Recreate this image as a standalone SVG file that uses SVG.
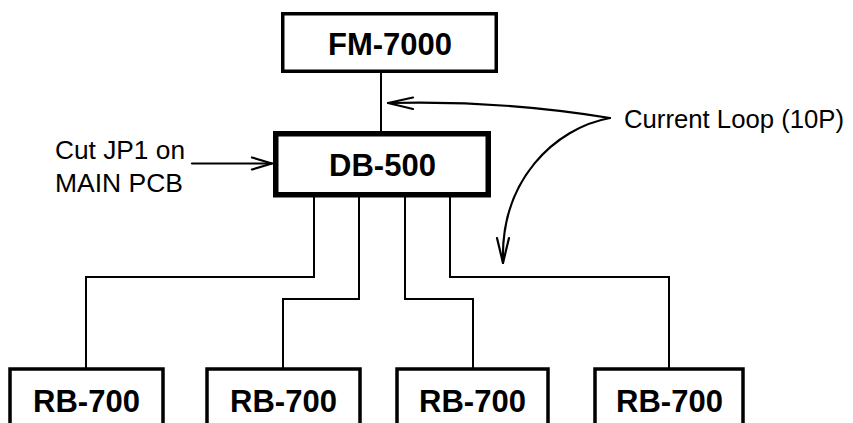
<svg xmlns="http://www.w3.org/2000/svg" width="853" height="423" viewBox="0 0 853 423">
<style>
.box{fill:#fff;stroke:#000;stroke-width:3.5}
.thick{stroke-width:5.5}
.lbl{font-family:"Liberation Sans",Arial,sans-serif;font-weight:bold;font-size:31px;fill:#000;text-anchor:middle}
.note{font-family:"Liberation Sans",Arial,sans-serif;font-size:26px;fill:#000}
.wire{fill:none;stroke:#000;stroke-width:2}
.ptr{fill:none;stroke:#000;stroke-width:2.2;stroke-linecap:round;stroke-linejoin:round}
</style>
<rect width="853" height="423" fill="#fff"/>
<g id="connectors">
<line class="wire" x1="381" y1="72" x2="381" y2="133"/>
<polyline class="wire" points="314,196 314,277 86,277 86,369"/>
<polyline class="wire" points="359,196 359,299 283,299 283,369"/>
<polyline class="wire" points="405,196 405,299 473,299 473,369"/>
<polyline class="wire" points="450,196 450,277 669,277 669,369"/>
</g>
<g id="fm7000">
<rect class="box" x="282.75" y="13.75" width="213.5" height="57.5"/>
<text class="lbl" x="390" y="55">FM-7000</text>
</g>
<g id="db500">
<rect class="box thick" x="275.75" y="133.75" width="212.5" height="61"/>
<text class="lbl" x="382.5" y="176">DB-500</text>
</g>
<g id="rb700-1">
<rect class="box" x="10" y="369" width="153" height="70"/>
<text class="lbl" x="86.5" y="412">RB-700</text>
</g>
<g id="rb700-2">
<rect class="box" x="207" y="369" width="153" height="70"/>
<text class="lbl" x="283.5" y="412">RB-700</text>
</g>
<g id="rb700-3">
<rect class="box" x="397" y="369" width="151" height="70"/>
<text class="lbl" x="472.5" y="412">RB-700</text>
</g>
<g id="rb700-4">
<rect class="box" x="595" y="369" width="148" height="70"/>
<text class="lbl" x="669.5" y="412">RB-700</text>
</g>
<g id="cut-note">
<text class="note" x="55" y="159" textLength="130" lengthAdjust="spacingAndGlyphs">Cut JP1 on</text>
<text class="note" x="55" y="192" textLength="128" lengthAdjust="spacingAndGlyphs">MAIN PCB</text>
<line class="ptr" x1="192" y1="163.5" x2="272" y2="163.5"/>
<polyline class="ptr" points="252,157.5 272,163.5 252,169.5"/>
</g>
<g id="loop-note">
<text class="note" x="624" y="128" textLength="220" lengthAdjust="spacingAndGlyphs">Current Loop (10P)</text>
<path class="ptr" d="M610,118 Q500,100 388,103"/>
<polyline class="ptr" points="413,97.5 388,103 413,109"/>
<path class="ptr" stroke-width="2.6" d="M610,118 C555,128 500,180 503,263"/>
<polyline class="ptr" points="497,238 503,263 509,238"/>
</g>
</svg>
